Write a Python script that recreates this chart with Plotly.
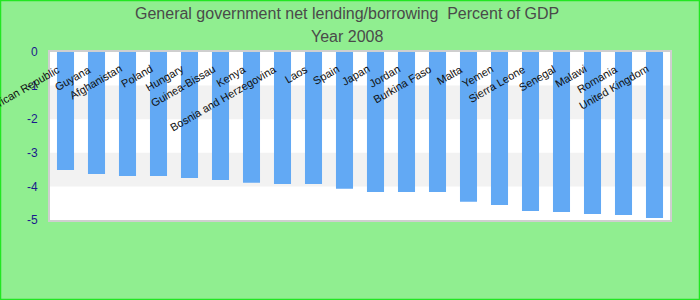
import plotly.graph_objects as go

countries = ["Central African Republic", "Guyana", "Afghanistan", "Poland", "Hungary",
             "Guinea-Bissau", "Kenya", "Bosnia and Herzegovina", "Laos", "Spain",
             "Japan", "Jordan", "Burkina Faso", "Malta", "Yemen",
             "Sierra Leone", "Senegal", "Malawi", "Romania", "United Kingdom"]
values = [-3.51, -3.63, -3.69, -3.69, -3.75, -3.81, -3.89, -3.93, -3.93, -4.07,
          -4.17, -4.17, -4.17, -4.46, -4.55, -4.73, -4.76, -4.82, -4.85, -4.94]
tick_vals = [0, -1, -2, -3, -4, -5]
tick_text = ["0", "-1", "-2", "-3", "-4", "-5"]
title_line1 = "General government net lending/borrowing  Percent of GDP"
title_line2 = "Year 2008"

ML, MR, MT, MB = 50, 30, 52, 80
W, H = 700, 300
PW, PH = W - ML - MR, H - MT - MB

fig = go.Figure()
fig.add_trace(go.Bar(x=countries, y=values, marker=dict(color="#62a9f4", line=dict(width=0)),
                     width=0.55, hoverinfo="x+y"))

shapes = []
for lo, hi in [(-2, -1), (-4, -3)]:
    shapes.append(dict(type="rect", xref="paper", yref="y", x0=0, x1=1, y0=lo, y1=hi,
                       fillcolor="#f2f2f2", line=dict(width=0), layer="below"))
shapes.append(dict(type="rect", xref="paper", yref="paper",
                   x0=(-ML + 0.5) / PW, x1=1 + (MR - 0.5) / PW,
                   y0=(-MB + 0.5) / PH, y1=1 + (MT - 0.5) / PH,
                   line=dict(color="#22e622", width=1.5)))

annotations = []
for c in countries:
    annotations.append(dict(x=c, y=0, xref="x", yref="y", text=c, showarrow=False,
                            textangle=-30, xanchor="right", yanchor="top",
                            xshift=-1, yshift=-8,
                            font=dict(family="Liberation Sans, Arial", size=11, color="#111")))
annotations.append(dict(x=0.5, y=1, xref="paper", yref="paper", text=title_line1,
                        showarrow=False, xanchor="center", yanchor="middle",
                        yshift=MT - 13, xshift=-(ML - MR) / 2 - 3,
                        font=dict(family="Liberation Sans, Arial", size=16, color="#4a4a4a")))
annotations.append(dict(x=0.5, y=1, xref="paper", yref="paper", text=title_line2,
                        showarrow=False, xanchor="center", yanchor="middle",
                        yshift=MT - 36, xshift=-(ML - MR) / 2 - 3,
                        font=dict(family="Liberation Sans, Arial", size=16, color="#4a4a4a")))

fig.update_layout(
    width=W, height=H,
    margin=dict(l=ML, r=MR, t=MT, b=MB),
    paper_bgcolor="#90ee90", plot_bgcolor="#ffffff",
    showlegend=False, bargap=0.45,
    shapes=shapes, annotations=annotations,
    xaxis=dict(range=[-0.5, len(countries) - 0.5], autorange=False,
               showticklabels=False, showgrid=False, zeroline=False, ticks="",
               showline=True, mirror=True, linecolor="#cfcfcf", linewidth=2),
    yaxis=dict(range=[-5, 0], autorange=False, tickvals=tick_vals, ticktext=tick_text,
               showgrid=False, zeroline=False, ticks="", ticklabelstandoff=8,
               tickfont=dict(family="Liberation Sans, Arial", size=12, color="#1a1a8c"),
               showline=True, mirror=True, linecolor="#cfcfcf", linewidth=2),
)

fig.write_html("out.html")
